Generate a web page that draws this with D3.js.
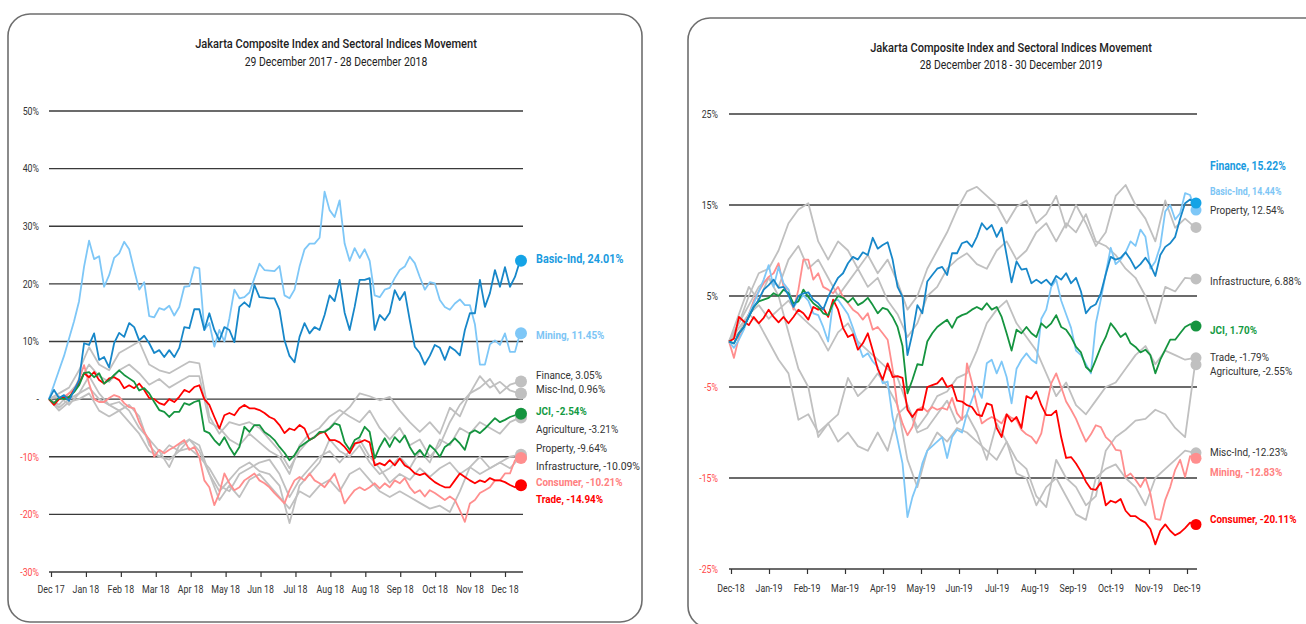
<!DOCTYPE html>
<html><head><meta charset="utf-8">
<script src="https://cdn.jsdelivr.net/npm/d3@7"></script>
<style>body{margin:0;background:#fff}svg{display:block}text{font-family:Roboto,"Liberation Sans",sans-serif}</style>
</head><body><svg id="c" width="1306" height="624"></svg>
<script>
// ---------- LEFT PANEL DATA (29 Dec 2017 - 28 Dec 2018), % change ----------
const leftXLabels = ["Dec 17","Jan 18","Feb 18","Mar 18","Apr 18","May 18","Jun 18","Jul 18","Aug 18","Aug 18","Sep 18","Oct 18","Nov 18","Dec 18"];
const leftYTicks = [-30,-20,-10,0,10,20,30,40,50];
const leftBasicInd = [0,1.6,0.2,0.7,-0.3,1.5,3.3,9.7,9.4,11.4,6.8,7.3,5.5,9.7,11.5,10.8,13.2,12.5,10.2,11,9.7,8,8.5,7.3,8.5,7.3,8.9,12.5,12.3,15.6,15.6,12,14.9,12,10.2,12.5,12,9.9,16,16.8,16,19.8,17.7,17.6,17.5,17.5,15.5,10.2,7.5,6.4,10.8,13.2,11.4,12.5,12,14.6,18,17,20.7,15,12,16,20.7,20.7,21,12,14.6,13.7,15,18.9,17.2,18.6,13.7,9.1,8,6,7.5,9.4,8.9,6.8,9.1,8.5,7.6,12,14.9,14.9,20.7,16,18.4,22.4,19.5,22.9,19.5,21.2,24.01];
const leftMining = [0,2.5,5,7.5,10.5,13.5,17,23,27.5,24.3,24.8,19.5,21.5,24.5,25.3,27.3,26,22.4,19,20.3,14.4,14.2,15.8,15.5,16.2,14.5,16,19.5,19.6,22.9,22.7,12,13.2,9.1,12,10,14,19,17.5,17.7,18.5,21,23.5,22.4,22.3,22.2,23.1,18,17.5,19,23,26,27,27,28,36,32.8,31.6,34.5,27,24,26.2,24.5,26,24,18,17.7,19,19.3,21,22.4,23,24.7,23.6,21.2,19,20.3,20.1,17.2,16,15.5,16.6,17.3,16.3,16.3,13,6,6,9.5,10.2,9.4,11.4,8.2,8.2,11.45];
const leftJCI = [0,-0.7,0.2,0,0.4,1.2,2.4,4.5,4.7,3.8,4.5,2.7,3.3,4.2,5,4.2,3.6,3,1.5,1.9,1,-0.5,-1.9,-2.2,-3.1,-2.2,-2.2,-0.7,-1,-0.5,-0.2,-5.5,-5.9,-7.1,-8,-6.6,-8.3,-9.7,-8.3,-4.8,-5.7,-4.5,-4.5,-5.7,-6.3,-7.1,-8.3,-9.3,-10.6,-9.7,-8.3,-7.7,-7.1,-6.6,-5.7,-5.7,-5.1,-4.2,-4.5,-7.5,-8.8,-7.1,-6.6,-4.8,-5.7,-10.3,-8.3,-6.8,-8.3,-6.6,-7.5,-6.3,-8.3,-9.7,-8.8,-10,-8,-8.8,-10,-8.3,-7.7,-6.8,-7.7,-8.8,-5.9,-5.4,-5.9,-5.1,-4.2,-3.3,-4,-3.6,-3.1,-2.8,-2.54];
const leftTrade = [0,-1,0,0.4,0.2,1.6,2.7,4.5,3.8,4.7,3.3,2.7,3.6,3.8,3.3,1.9,2.4,1.9,2.7,1.6,0.2,0,-0.7,-1,0,-0.5,0.4,1.6,1.2,2.1,2.4,0,-1,-3.1,-5.1,-2.8,-2.4,-2.8,-1.6,-1,-1.6,-1.6,-1.9,-2.4,-3.1,-3.5,-4.5,-5.9,-5.1,-5.4,-4.5,-5.1,-7.1,-6.6,-5.9,-5.7,-7.1,-7.1,-7.5,-8.3,-9.4,-7.7,-7.5,-7.1,-7.5,-11.5,-11.1,-11.5,-10.6,-11.5,-10.3,-11.5,-12,-12.9,-13.2,-12.9,-13.7,-14.4,-14.9,-15.3,-15.3,-14.1,-12.9,-13.5,-14.1,-14.6,-14.1,-14.4,-13.7,-14.1,-14.1,-14.4,-14.9,-15.3,-14.94];
const leftConsumer = [0,-0.7,0,0.4,1,1.6,3.5,5.9,2.7,0,-0.5,-0.5,0.2,0.7,0.4,-0.7,-1.4,-1.6,-4,-5.7,-7.1,-10,-8.8,-9.4,-8.8,-8.3,-7.7,-7.1,-8.8,-8.3,-10,-14.1,-15.3,-18.4,-16.3,-12.9,-14.6,-15.8,-15.3,-14.1,-13.5,-12.9,-14.1,-14.6,-15.3,-16.3,-17.2,-18.1,-15.8,-14.1,-13.5,-14.1,-12.9,-14.1,-14.6,-15.3,-14.1,-12.9,-15.3,-18.1,-16.9,-15.8,-15.3,-15.8,-15.3,-14.6,-15.5,-14.6,-15.3,-14.1,-14.6,-13.7,-15.3,-16.3,-15.8,-16.9,-15.8,-16.3,-16.9,-17.5,-16.9,-17.5,-19.3,-21.3,-18.1,-17.5,-16.3,-15.8,-15.3,-14.1,-14.1,-12.9,-12.9,-10.6,-10.21];
const leftFinance = [0,1,2,5,9,6,5,8,9,10,6,5,4.5,5.5,6.5,6.2,-3,-6,-4,-4.5,-4,-5,-7,-9,-12,-9,-7,-6,-5,-3,-1.4,1,0.5,-0.2,0.4,-2,-4,-5.7,-4,-6,-1.5,-3,1,2,3.5,1,2.5,3.05];
const leftMiscInd = [0,-1,1,3,6,4,3,5,6,4.5,2.5,3.5,2,3,4,4,-4,-5,-7,-8,-6,-7.5,-9,-10,-13,-8,-6,-5,-3,-1.9,-3,-4,-2,-5,-7,-5,-8,-7,-10,-8,-4,-1,1,4,2,3,1.5,0.96];
const leftAgriculture = [0,0.5,-1,1,2,0,-1,-0.5,-2,-5,-7,-9,-11.8,-8,-7,-9,-13,-16,-14,-12,-11,-12.5,-13,-15,-21.5,-15,-13,-11,-7,-9,-10,-8,-11,-13,-12,-10,-12,-9,-11,-7,-8,-5,-6,-4,-5,-6,-4,-3.21];
const leftProperty = [0,-1.5,0,1,4,1,-1,-2,-1,-3,-8,-10,-10.5,-9,-8.5,-10,-12,-15,-16,-13,-12,-11,-10.5,-13,-17,-14,-12,-10,-9,-11,-9,-7,-10,-12,-14.5,-13,-14,-12,-13.5,-12,-11,-13,-11.8,-10,-12,-11,-10,-9.64];
const leftInfrastructure = [0,-2,-0.5,0,1,-2,-3,-2,-4,-6,-9,-10,-8,-9,-7,-8,-13,-17.5,-15,-17,-14,-13,-15,-17,-19,-16,-17,-15,-14,-16,-13,-12,-14,-16,-17,-16,-17,-18,-19,-18.5,-19.6,-16,-11.8,-13,-12,-11,-12,-10.09];

// ---------- RIGHT PANEL DATA (28 Dec 2018 - 30 Dec 2019), % change ----------
const rightXLabels = ["Dec-18","Jan-19","Feb-19","Mar-19","Apr-19","May-19","Jun-19","Jul-19","Aug-19","Sep-19","Oct-19","Nov-19","Dec-19"];
const rightYTicks = [-25,-15,-5,5,15,25];
const rightFinance = [0,-0.2,0.9,1.6,2.7,3.8,4.6,5.7,6.2,6.8,5.9,6.0,5.1,3.8,5.0,5.3,5.4,4.6,4.2,3.5,4.9,6.0,7.0,7.5,8.6,9.3,9.0,9.8,9.5,11.4,10.2,10.6,10.9,9.0,6.0,4.9,-1.5,0.9,4.0,3.1,6.6,7.3,8.0,8.2,7.3,9.7,9.7,10.8,11.0,10.4,11.5,13.0,12.3,12.8,11.5,12.5,9.5,6.5,8.8,7.9,8.0,6.4,6.8,6.4,6.8,6.2,7.2,6.8,7.5,6.4,7.0,5.5,3.1,3.8,4.1,5.3,7.4,9.3,9.0,9.2,9.8,9.0,8.0,8.5,9.2,8.4,7.2,9.5,10.4,10.8,11.5,13.5,15.2,15.6,15.22];
const rightBasicInd = [0,-0.7,0.2,1.3,3.0,4.2,5.5,6.8,8.4,6.0,8.2,6.4,5.7,3.8,4.5,5.1,4.5,3.1,2.9,1.6,0,4.4,4.6,3.8,3.0,1.5,-0.2,-1.7,-1.3,-2.2,-2.8,-4.6,-4.4,-8.3,-10.8,-13.4,-19.3,-17.1,-15.6,-13.4,-12.0,-11.5,-11.0,-10.5,-12.8,-10.5,-9.7,-10.0,-7.9,-6.4,-5.0,-6.2,-2.4,-2.0,-3.5,-2.2,-3.9,-6.8,-3.0,-2.0,-1.3,-2.0,-2.4,2.5,3.5,6.0,6.8,4.5,3.0,1.5,-1.0,-1.5,-2.5,-3.5,2.0,4.6,7.5,10.3,8.5,9.0,9.8,11.0,10.5,12.3,11.5,8.0,8.8,10.5,14.3,15.0,13.4,14.1,16.3,16.1,14.44];
const rightJCI = [0,-0.2,0.9,1.6,2.7,3.8,4.4,4.6,4.8,5.3,5.0,5.7,5.3,4.2,4.4,5.7,4.9,4.2,3.8,3.1,2.9,4.2,5.0,4.8,4.3,4.8,4.0,4.3,4.8,4.0,3.1,3.7,3.5,2.7,1.6,-0.5,-5.7,-4.2,-2.5,-2.6,0.0,0.9,1.6,2.0,2.4,1.5,2.6,2.9,3.1,3.5,3.8,3.5,4.2,3.5,3.8,2.7,0.9,-1.0,1.3,0.9,1.6,0.9,0.5,2.0,1.5,2.0,2.9,1.6,1.3,0.5,-0.6,-1.2,-2.8,-3.3,-2.0,-0.6,0.5,2.0,1.3,0.5,0.9,-0.2,-0.6,-1.2,-0.9,-1.5,-3.5,-2.0,-0.9,0.2,0.2,0.9,1.6,1.9,1.70];
const rightConsumer = [0,0.3,2.7,2.2,1.8,2.7,2.0,2.6,3.5,2.7,2.1,2.7,2.0,2.7,3.5,3.1,2.4,3.8,3.5,3.7,2.7,4.6,3.5,1.5,0.5,0.8,-0.9,-0.2,0.9,-1.0,-3.0,-4.2,-2.4,-3.9,-3.8,-4.0,-7.5,-8.3,-7.5,-7.5,-5.0,-4.8,-4.6,-4.0,-5.0,-4.8,-6.5,-6.6,-7.0,-7.2,-8.0,-8.2,-6.8,-7.0,-9.5,-10.5,-8.0,-8.8,-8.3,-9.5,-6.0,-6.3,-5.5,-7.0,-8.1,-8.1,-7.6,-10.5,-12.8,-12.7,-13.4,-14.3,-15.4,-16.2,-16.3,-15.5,-18.0,-17.5,-17.7,-17.3,-18.6,-19.2,-19.2,-19.6,-19.9,-20.6,-22.3,-20.8,-20.1,-20.8,-21.3,-21.0,-20.5,-19.9,-20.11];
const rightMining = [0,-1.8,0.5,1.6,3.0,4.5,5.5,6.4,7.1,7.5,8.6,6.0,5.7,3.5,5.7,9.0,9.0,6.8,7.5,6.0,5.7,5.3,6.0,4.9,4.2,3.5,3.1,2.4,3.1,1.3,1.6,0.9,0.2,-3.0,-7.2,-9.0,-10.3,-9.4,-7.5,-7.2,-7.7,-7.2,-7.5,-7.3,-7.5,-6.2,-7.9,-8.6,-2.4,-4.5,-7.0,-9.0,-8.6,-8.3,-8.6,-9.0,-8.0,-8.4,-8.6,-9.7,-10.2,-10.5,-11.2,-10.1,-7.2,-4.6,-3.5,-5.0,-6.6,-7.5,-8.5,-9.8,-11.0,-10.2,-9.2,-9.4,-10.5,-11.0,-11.9,-12.0,-14.9,-14.5,-15.2,-16.0,-15.0,-16.7,-19.5,-19.6,-17.4,-16.0,-14.1,-13.0,-14.9,-12.6,-12.83];
const rightProperty = [0,2,5,7.5,8,10,13,14.5,15.2,11,9,11,10,8,9.5,7.5,9,6.5,3.5,5,8,10,12,14.5,16.5,17,16,15,13,14.8,15.5,13,14,16,12.5,15,13,10.5,12,16,17.2,15,13.5,11,15.5,12.5,13.5,12.54];
const rightInfrastructure = [0,3,6,4.5,7,6,9,10.5,8,9,7,5,6.5,8,6,7,4.5,3,0.5,2,5,6,8,9,9.7,8.5,8,10,11,9,10,12,13,11,13,12,14,11,10.5,9.5,8,7,5,2,6,5.5,7,6.88];
const rightTrade = [0,1.5,3,4,2.5,3.5,4.5,3,2,1,-1,1,2,0,-1,-2,-3,-4,-7,-9.5,-8,-6,-5.5,-4,-3.5,-1,2,3.5,4.5,2,0.5,-1,-3.5,-6,-4.5,-7,-8,-6.5,-5,-4.5,-3,-1.5,-0.5,-2.5,-1,-1.5,-2,-1.79];
const rightAgriculture = [0,2,4,6,7,5,1,-3,-5,-10.5,-9,-11,-10,-11.5,-12,-10,-12,-8,-7,-10,-9.5,-8,-6.5,-9,-8,-10,-13,-9,-11,-13,-14,-17,-18.2,-13,-15,-16,-18,-17,-12,-10.5,-9.7,-8.7,-8.5,-7.5,-8,-9.5,-10.5,-2.55];
const rightMiscInd = [0,1,3,2,0,-2,-3.5,-8.6,-8,-10,-9,-8,-4,-6,-5,-3.5,-5,-7,-13,-16,-12,-10,-11,-9.5,-10,-11,-12,-13,-11,-14.5,-15,-18,-16,-15,-17,-19,-19.6,-15,-14,-13.5,-15,-16,-18,-15,-14,-13,-12,-12.23];

// ---------- STYLE ----------
const COL = {gray:"#c0c0c0", pink:"#ff8e8e", lblue:"#7ec7f7", red:"#ff0000", green:"#15943f", blue:"#1787c9", blueDot:"#14a3e6", text:"#333", negTick:"#ff4a4a"};

const svg = d3.select("#c");

function T(g, x, y, s, o = {}) {
  return g.append("text")
    .attr("transform", `translate(${x},${y}) scale(${o.sx || 0.84},1)`)
    .attr("text-anchor", o.anchor || "start")
    .attr("dominant-baseline", "central")
    .attr("font-size", o.size || 10)
    .attr("font-weight", o.weight || 400)
    .attr("fill", o.fill || COL.text)
    .text(s);
}

function drawPanel(p) {
  const g = svg.append("g");
  g.append("rect").attr("x", p.card[0]).attr("y", p.card[1]).attr("width", p.card[2]).attr("height", p.card[3])
    .attr("rx", 22).attr("fill", "#fff").attr("stroke", "#6e6e6e").attr("stroke-width", 1.6);

  T(g, p.titleX, p.titleY, "Jakarta Composite Index and Sectoral Indices Movement", {anchor: "middle", size: 13, weight: 500, fill: "#222", sx: 0.85});
  T(g, p.titleX, p.subY, p.subtitle, {anchor: "middle", size: 12.2, fill: "#222", sx: 0.85});

  const y = d3.scaleLinear().domain(p.yDomain).range(p.yRange);
  const x = d3.scaleLinear().domain([0, 1]).range([p.x0, p.x1]);

  // gridlines + y labels
  p.yTicks.forEach(v => {
    g.append("line").attr("x1", p.gx0).attr("x2", p.gx1).attr("y1", y(v)).attr("y2", y(v))
      .attr("stroke", "#3a3a3a").attr("stroke-width", 1.4);
    T(g, p.tickLabelX, y(v), v === 0 ? "-" : v + "%", {anchor: "end", size: 10.5, fill: v < 0 ? COL.negTick : "#333"});
  });

  // bottom axis (category ticks)
  const xs = d3.scalePoint().domain(d3.range(p.xLabels.length)).range(p.xTickRange);
  const ax = g.append("g").attr("transform", `translate(0,${y(p.yDomain[0])})`)
    .call(d3.axisBottom(xs).tickSize(5).tickFormat(() => ""));
  ax.select(".domain").remove();
  ax.selectAll(".tick line").attr("stroke", "#333").attr("stroke-width", 1.2);
  p.xLabels.forEach((s, i) => T(g, xs(i), p.xLabelY, s, {anchor: "middle", size: 10.5, fill: "#333"}));

  // lines
  p.series.forEach(s => {
    const line = d3.line().x((v, i) => x(i / (s.vals.length - 1))).y(v => y(v));
    g.append("path").datum(s.vals).attr("fill", "none").attr("stroke", s.color)
      .attr("stroke-width", s.w || 1.8).attr("stroke-linejoin", "round").attr("d", line);
  });
  // end dots
  p.series.forEach(s => {
    const last = s.vals[s.vals.length - 1];
    g.append("circle").attr("cx", x(1) + 1).attr("cy", y(last)).attr("r", p.dotR).attr("fill", s.dot || s.color);
  });
  // labels
  p.series.forEach(s => {
    const last = s.vals[s.vals.length - 1];
    const bold = s.weight === 700;
    T(g, p.labelX, y(last) + s.dy, `${s.name}, ${last.toFixed(2)}%`,
      {size: s.size || (bold ? 11.5 : 11.2), weight: s.weight || 400, fill: s.lcolor || "#333", sx: s.sx || (bold ? 0.86 : 0.89)});
  });
}

drawPanel({
  card: [8, 14, 634, 608], titleX: 336, titleY: 44, subY: 62,
  subtitle: "29 December 2017 - 28 December 2018",
  yDomain: [-30, 50], yRange: [572, 111], yTicks: leftYTicks, tickLabelX: 39,
  x0: 49, x1: 520, gx0: 49, gx1: 523,
  xLabels: leftXLabels, xTickRange: [51, 505], xLabelY: 589,
  dotR: 6, labelX: 536,
  series: [
    {name: "Finance", vals: leftFinance, color: COL.gray, dy: -6.5},
    {name: "Misc-Ind", vals: leftMiscInd, color: COL.gray, dy: -4.5},
    {name: "Agriculture", vals: leftAgriculture, color: COL.gray, dy: 11.5},
    {name: "Property", vals: leftProperty, color: COL.gray, dy: -6.5},
    {name: "Infrastructure", vals: leftInfrastructure, color: COL.gray, dy: 9, sx: 0.93},
    {name: "Consumer", vals: leftConsumer, color: COL.pink, dy: 24, weight: 700, lcolor: "#ff8080"},
    {name: "Mining", vals: leftMining, color: COL.lblue, dy: 2, weight: 700, lcolor: "#7cc5f5"},
    {name: "Trade", vals: leftTrade, color: COL.red, dy: 14, weight: 700, lcolor: "#ff0000"},
    {name: "JCI", vals: leftJCI, color: COL.green, dy: -2.5, weight: 700, lcolor: "#139a43"},
    {name: "Basic-Ind", vals: leftBasicInd, color: COL.blue, dot: COL.blueDot, dy: -1.5, weight: 700, lcolor: "#1a9be0", size: 12, sx: 0.9}
  ]
});

drawPanel({
  card: [688, 18, 640, 610], titleX: 1011, titleY: 48, subY: 65,
  subtitle: "28 December 2018 - 30 December 2019",
  yDomain: [-25, 25], yRange: [569, 114], yTicks: rightYTicks, tickLabelX: 718,
  x0: 729, x1: 1195, gx0: 729, gx1: 1197,
  xLabels: rightXLabels, xTickRange: [731, 1187], xLabelY: 588,
  dotR: 5.5, labelX: 1210,
  series: [
    {name: "Property", vals: rightProperty, color: COL.gray, dy: -17},
    {name: "Infrastructure", vals: rightInfrastructure, color: COL.gray, dy: 2},
    {name: "Trade", vals: rightTrade, color: COL.gray, dy: -0.5},
    {name: "Agriculture", vals: rightAgriculture, color: COL.gray, dy: 7},
    {name: "Misc-Ind", vals: rightMiscInd, color: COL.gray, dy: -0.5},
    {name: "Mining", vals: rightMining, color: COL.pink, dy: 14, weight: 700, lcolor: "#ff8080"},
    {name: "Basic-Ind", vals: rightBasicInd, color: COL.lblue, dy: -18.5, weight: 700, lcolor: "#7cc5f5", size: 10.5, sx: 0.84},
    {name: "Consumer", vals: rightConsumer, color: COL.red, dy: -5, weight: 700, lcolor: "#ff0000"},
    {name: "JCI", vals: rightJCI, color: COL.green, dy: 4, weight: 700, lcolor: "#139a43"},
    {name: "Finance", vals: rightFinance, color: COL.blue, dot: COL.blueDot, dy: -37, weight: 700, lcolor: "#1a9be0", size: 12, sx: 0.86}
  ]
});
</script>
</body></html>
